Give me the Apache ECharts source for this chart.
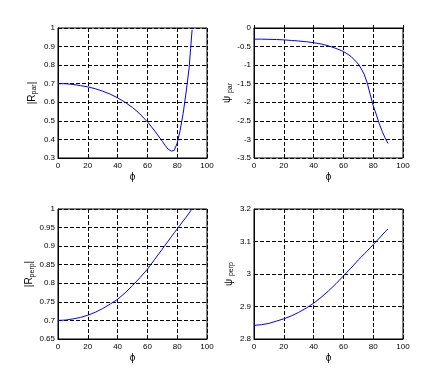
<!DOCTYPE html>
<html><head><meta charset="utf-8">
<script src="https://cdn.jsdelivr.net/npm/echarts@6/dist/echarts.min.js"></script>
<style>html,body{margin:0;padding:0;background:#fff}#c{width:446px;height:381px}</style>
</head><body><div id="c"></div>
<script>
const phi = [0,5,10,15,20,25,30,35,40,45,50,55,60,65,70,72,74,76,78,80,82,84,86,88,89,90];
const rPar = [0.700,0.700,0.696,0.690,0.683,0.673,0.660,0.644,0.624,0.600,0.572,0.537,0.495,0.445,0.390,0.367,0.347,0.337,0.341,0.380,0.450,0.540,0.655,0.785,0.890,0.990];
const psiPar = [-0.30,-0.30,-0.305,-0.31,-0.32,-0.335,-0.35,-0.37,-0.395,-0.43,-0.48,-0.55,-0.63,-0.76,-0.97,-1.10,-1.25,-1.48,-1.79,-2.09,-2.32,-2.57,-2.78,-2.96,-3.04,-3.11];
const rPerp = [0.700,0.701,0.704,0.708,0.714,0.722,0.732,0.744,0.757,0.774,0.794,0.815,0.838,0.865,0.892,0.903,0.914,0.925,0.936,0.946,0.957,0.968,0.978,0.989,0.995,1.000];
const psiPerp = [2.842,2.844,2.848,2.855,2.862,2.871,2.882,2.895,2.910,2.928,2.948,2.970,2.994,3.018,3.043,3.052,3.062,3.071,3.081,3.090,3.100,3.110,3.120,3.130,3.135,3.139];
const xTicks = {min:0, max:100, interval:20};
const yRanges = [
  {min:0.3, max:1, interval:0.1},
  {min:-3.5, max:0, interval:0.5},
  {min:0.65, max:1, interval:0.05},
  {min:2.8, max:3.2, interval:0.1}
];
const yNames = [
  '{a||R}{s|par}{a||}',
  '{a|ψ }{s|par}',
  '{a||R}{s|perp}{a||}',
  '{a|ψ }{s|perp}'
];
const xName = 'ϕ';
const seriesData = [rPar, psiPar, rPerp, psiPerp];

const font = 'Liberation Sans, Arial, sans-serif';
const grids = [
  {left:58, top:28, width:149, height:130},
  {left:254, top:28, width:149, height:130},
  {left:58, top:209, width:149, height:130},
  {left:254, top:209, width:149, height:130}
];
const dash = {color:'#000', type:[4,2], width:1};
const fmt = v => String(parseFloat(v.toFixed(3)));
const option = {
  backgroundColor:'#fff',
  animation:false,
  grid: grids.map(g => Object.assign({show:true, borderColor:'#000', borderWidth:1, backgroundColor:'#fff'}, g)),
  xAxis: grids.map((g,i) => ({
    type:'value', gridIndex:i, min:xTicks.min, max:xTicks.max, interval:xTicks.interval,
    name:xName, nameLocation:'middle', nameGap:14,
    nameTextStyle:{fontFamily:font, fontSize:10, color:'#000'},
    axisLine:{lineStyle:{color:'#000'}},
    axisTick:{inside:true, length:3, lineStyle:{color:'#000'}},
    axisLabel:{fontFamily:font, fontSize:8, color:'#000', margin:4, formatter:fmt, showMinLabel:true, showMaxLabel:true},
    splitLine:{show:true, lineStyle:dash}
  })),
  yAxis: grids.map((g,i) => ({
    type:'value', gridIndex:i, min:yRanges[i].min, max:yRanges[i].max, interval:yRanges[i].interval,
    name:yNames[i], nameLocation:'middle', nameRotate:90, nameGap:(i%2===0)?20:19,
    nameTextStyle:{fontFamily:font, color:'#000',
      rich:{a:{fontFamily:font, fontSize:10, color:'#000'}, s:{fontFamily:font, fontSize:7, color:'#000', padding:[5,0,0,0]}}},
    axisLine:{lineStyle:{color:'#000'}},
    axisTick:{inside:true, length:3, lineStyle:{color:'#000'}},
    axisLabel:{fontFamily:font, fontSize:8, color:'#000', margin:3, formatter:fmt, showMinLabel:true, showMaxLabel:true},
    splitLine:{show:true, lineStyle:dash}
  })),
  series: seriesData.map((d,i) => ({
    type:'line', xAxisIndex:i, yAxisIndex:i, showSymbol:false, symbol:'none',
    lineStyle:{color:'#0000ff', width:1}, smooth:false,
    data: phi.map((p,k) => [p, d[k]])
  }))
};
const chart = echarts.init(document.getElementById('c'), null, {renderer:'canvas'});
chart.setOption(option);
</script></body></html>
